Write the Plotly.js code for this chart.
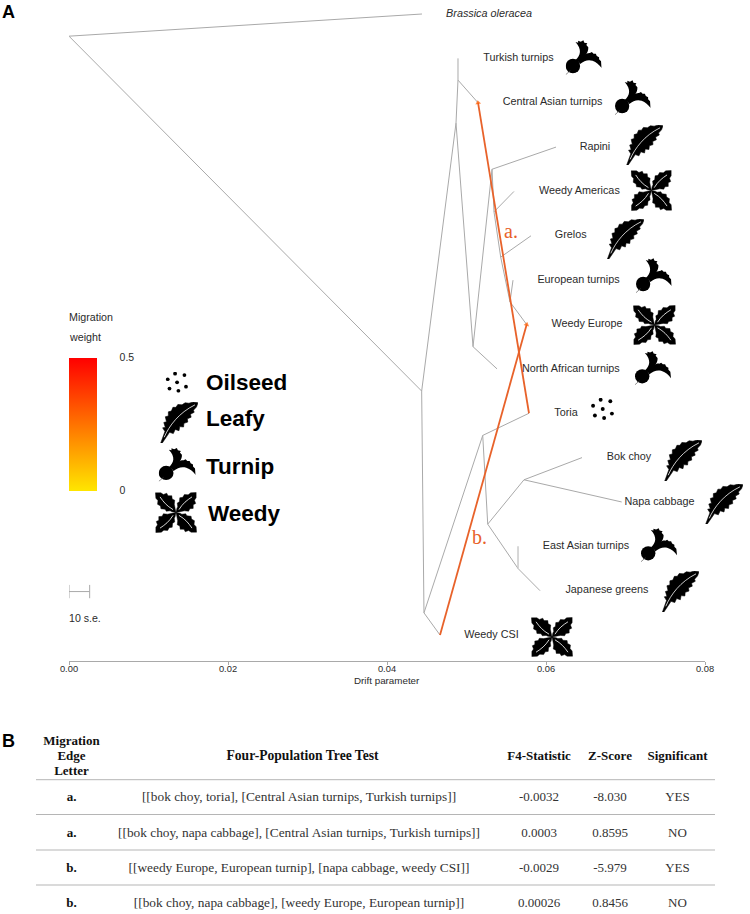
<!DOCTYPE html>
<html>
<head>
<meta charset="utf-8">
<script src="https://cdn.plot.ly/plotly-3.0.1.min.js"></script>
<style>html,body{margin:0;padding:0;background:#fff}</style>
</head>
<body>
<div id="chart" style="width:750px;height:914px"></div>
<script>
// ---- DATA: drift on x, tree row on y; null splits branches ----
const rowNames = ['<i>Brassica oleracea</i>','Turkish turnips','Central Asian turnips','Rapini','Weedy Americas','Grelos','European turnips','Weedy Europe','North African turnips','Toria','Bok choy','Napa cabbage','East Asian turnips','Japanese greens','Weedy CSI'];
const labelDrift = [.05283,.05653,.06082,.06616,.0642,.0631,.06409,.06516,.06313,.06252,.07044,.07428,.06502,.06766,.05314];
const labelRows = [0,1,2,3,4,5,6,7,8,9,10,11,12,13,14];
const branchDrift = [
  .0444,0,.04436,.04868,.04893,.04893,null,
  .04893,.05145,null,
  .04868,.05082,.05384,null,
  .05082,.05321,.06126,null,
  .05321,.05346,.05597,null,
  .05346,.0543,.05811,null,
  .0543,.05547,.05585,null,
  .05547,.05757,null,
  .04436,.04465,.04667,null,
  .04465,.05204,.05786,null,
  .05204,.05267,.05723,.06453,null,
  .05723,.06952,null,
  .05267,.05648,.05925
];
const branchRow = [
  0,.5,8.5,2.46,1.49,1,null,
  1.49,2,null,
  2.46,7.5,8,null,
  7.5,3.5,3,null,
  3.5,4.46,4,null,
  4.46,5.48,5,null,
  5.48,6.49,6,null,
  6.49,7,null,
  8.5,13.5,14,null,
  13.5,9.5,9,null,
  9.5,11.5,10.5,10,null,
  10.5,11,null,
  11.5,12.5,13
];
const eastAsianDrift = [.05648,.05648];
const eastAsianRow = [12.5,12];
const migrationA = {drift:[.05786,.05145], row:[9,2], weight:[.3,.3]};
const migrationB = {drift:[.04667,.05757], row:[14,7], weight:[.3,.3]};
const scaleDrift = [0,.0026,null,0,0,null,.0026,.0026];
const scaleRow = [13.02,13.02,null,12.87,13.17,null,12.87,13.17];
const driftTicks = [0,.02,.04,.06,.08];

const headerEdge = ['Migration','Edge','Letter'];
const headerTest = ['Four-Population Tree Test'];
const headers = ['F4-Statistic','Z-Score','Significant'];
const edgeLetter = ['a.','a.','b.','b.'];
const treeTest = ['[[bok choy, toria], [Central Asian turnips, Turkish turnips]]','[[bok choy, napa cabbage], [Central Asian turnips, Turkish turnips]]','[[weedy Europe, European turnip], [napa cabbage, weedy CSI]]','[[bok choy, napa cabbage], [weedy Europe, European turnip]]'];
const f4Stat = ['-0.0032','0.0003','-0.0029','0.00026'];
const zScore = ['-8.030','0.8595','-5.979','0.8456'];
const significant = ['YES','NO','YES','NO'];

// ---- LAYOUT HELPERS ----
const W = 750, H = 914;
const sans = '"Liberation Sans", Arial, sans-serif';
const serif = '"Liberation Serif", "Times New Roman", serif';
const grey = '#a9a9a9', orange = '#e8622a', ink = '#2b2b2b';
const colX = [71.5, 299, 539, 610, 677.5];
const rowY = [798, 833.5, 868.5, 904];
const ruleY = [779.7, 814.5, 850, 885];

// ---- ICONS (decorative glyphs) ----
const svgWrap = (vb, body) => 'data:image/svg+xml,' + encodeURIComponent(
  `<svg xmlns="http://www.w3.org/2000/svg" viewBox="${vb}" preserveAspectRatio="none">${body}</svg>`);
const leafIcon = svgWrap('0 0 100 100',
  '<path fill="#000" stroke="#000" stroke-width="1.5" stroke-linejoin="round" d="M2,100 L13,72 L7,63 L14,62 L10,50 L17,48 L14,36 L22,34 L22,24 L30,22 L34,13 L42,13 L47,6 L58,7 L66,2 L76,3 L88,0 L100,2 L96,12 L88,20 L90,25 L80,30 L82,37 L72,41 L73,49 L63,52 L62,61 L52,60 L50,70 L40,67 L35,77 L25,74 L6,100 Z"/>' +
  '<path fill="none" stroke="#fff" stroke-width="2" d="M11,86 C24,58 50,26 92,7"/>');
const turnipIcon = svgWrap('0 0 110 105',
  '<circle cx="22" cy="78" r="22" fill="#000"/>' +
  '<path stroke="#555" stroke-width="2" d="M14,92 L0,104"/>' +
  '<path fill="#000" d="M30,60 C46,46 50,28 30,6 L38,8 L38,2 L46,5 L54,1 L57,8 L66,10 L63,15 L69,22 C70,38 58,52 40,66 Z"/>' +
  '<path fill="#000" d="M38,64 C52,46 64,38 74,39 L80,36 L85,41 L92,41 L95,48 L102,52 L102,58 L108,64 L110,84 C102,74 94,66 82,62 C68,58 56,62 44,72 Z"/>');
const weedLeaf = 'M50,50 L52,40 L54,36 L53,27 L58,24 L59,14 L66,13 L70,6 L79,7 L85,2 L98,1 L98,14 L94,20 L97,28 L91,31 L91,40 L83,41 L80,47 L70,46 L60,48 Z';
const weedRib = '<path fill="none" stroke="#fff" stroke-width="2" d="M57,43 C66,28 76,20 88,12"/>';
const weedPart = a => `<g transform="rotate(${a} 50 50)"><path fill="#000" stroke="#000" stroke-width="1" stroke-linejoin="round" d="${weedLeaf}"/>${weedRib}</g>`;
const weedyIcon = svgWrap('0 0 100 100', weedPart(0) + weedPart(90) + weedPart(180) + weedPart(270));
const seedSpots = [[42,8],[84,15],[9,35],[51,50],[91,71],[17,80],[57,91]];
const seedIcon = svgWrap('0 0 100 100', seedSpots.map(p => `<ellipse cx="${p[0]}" cy="${p[1]}" rx="8.5" ry="9" fill="#000"/>`).join(''));

const place = (src, x0, y0, x1, y1) => ({
  source: src, xref: 'paper', yref: 'paper', x: x0 / W, y: 1 - y0 / H,
  sizex: (x1 - x0) / W, sizey: (y1 - y0) / H, xanchor: 'left', yanchor: 'top',
  sizing: 'stretch', layer: 'above'
});
const images = [
  place(turnipIcon, 565.7, 40, 601.7, 75), place(turnipIcon, 615, 80, 650.7, 115),
  place(leafIcon, 626, 125, 663, 165), place(weedyIcon, 630.7, 170, 672, 211),
  place(leafIcon, 606.7, 219, 644, 259), place(turnipIcon, 636, 258, 671.7, 293),
  place(weedyIcon, 633, 305, 676, 345), place(turnipIcon, 635, 351, 671, 385),
  place(seedIcon, 591, 398, 614, 420), place(leafIcon, 664, 440, 702, 481),
  place(leafIcon, 705, 484, 743, 524), place(turnipIcon, 641, 528, 677, 562),
  place(leafIcon, 661.7, 571, 699, 612), place(weedyIcon, 531, 617, 573, 657),
  place(seedIcon, 165.7, 372, 188, 392.7), place(leafIcon, 160, 402, 198, 443),
  place(turnipIcon, 158.7, 447.7, 195.7, 481.7), place(weedyIcon, 155, 492, 197, 533)
];

// ---- TRACES ----
const colorScale = [[0,'#ffe600'],[1,'#ff0000']];
const migrationTrace = (m, bar) => ({
  type: 'scatter', mode: 'lines+markers', x: m.drift, y: m.row, hoverinfo: 'skip', showlegend: false,
  line: {color: orange, width: 1.8},
  marker: Object.assign({
    symbol: 'triangle-up', angleref: 'previous', size: [0, 5], color: m.weight,
    colorscale: colorScale, cmin: 0, cmax: .5, showscale: bar, line: {width: 0}
  }, bar ? {colorbar: {
    xref: 'paper', yref: 'paper', x: 69 / W, xanchor: 'left', y: 1 - 357.7 / H, yanchor: 'top',
    lenmode: 'pixels', len: 133.3, thicknessmode: 'pixels', thickness: 28,
    outlinewidth: 0, borderwidth: 0, xpad: 0, ypad: 0,
    tickvals: [0, .5], ticktext: ['0', '0.5'], ticks: 'outside', ticklen: 21, tickcolor: 'rgba(0,0,0,0)',
    tickfont: {family: sans, size: 10.5, color: ink}
  }} : {})
});
const tableText = (x, y, text, bold, color, size) => ({
  type: 'scatter', mode: 'text', xaxis: 'x2', yaxis: 'y2', x, y, text, textposition: 'middle center',
  hoverinfo: 'skip', showlegend: false, cliponaxis: false,
  textfont: {family: serif, size: size || 13, color: color || '#333', weight: bold ? 700 : 400}
});
const fill = (n, v) => Array.from({length: n}, () => v);
const ruleX = [], ruleYs = [];
ruleY.forEach(y => { ruleX.push(36, 715, null); ruleYs.push(y, y, null); });

const data = [
  {type: 'scatter', mode: 'lines', x: branchDrift, y: branchRow, hoverinfo: 'skip', showlegend: false,
   line: {color: grey, width: 1}},
  {type: 'scatter', mode: 'lines', x: eastAsianDrift, y: eastAsianRow, hoverinfo: 'skip', showlegend: false,
   line: {color: '#c6c6c6', width: 1.4}},
  migrationTrace(migrationA, true),
  migrationTrace(migrationB, false),
  {type: 'scatter', mode: 'lines', x: scaleDrift, y: scaleRow, hoverinfo: 'skip', showlegend: false,
   line: {color: grey, width: 1}},
  {type: 'scatter', mode: 'text', x: labelDrift, y: labelRows, text: rowNames, textposition: 'middle center',
   hoverinfo: 'skip', showlegend: false, cliponaxis: false, textfont: {family: sans, size: 10.8, color: ink}},
  {type: 'scatter', mode: 'lines', xaxis: 'x2', yaxis: 'y2', x: ruleX, y: ruleYs, hoverinfo: 'skip', showlegend: false,
   line: {color: '#b5b5b5', width: 1}},
  tableText(fill(3, colX[0]), [741.7, 757, 772], headerEdge, true, '#111'),
  tableText([302.5], [756.7], headerTest, true, '#111', 13.6),
  tableText(colX.slice(2), fill(3, 756.7), headers, true, '#111'),
  tableText(fill(4, colX[0]), rowY, edgeLetter, true, '#111'),
  tableText(fill(4, colX[1]), rowY, treeTest, false, '#333', 13.35),
  tableText(fill(4, colX[2]), rowY, f4Stat),
  tableText(fill(4, colX[3]), rowY, zScore),
  tableText(fill(4, colX[4]), rowY, significant)
];

// ---- ANNOTATIONS ----
const note = (text, x, y, font, anchor) => ({
  text, x: x / W, y: 1 - y / H, xref: 'paper', yref: 'paper', showarrow: false,
  xanchor: anchor || 'left', yanchor: 'middle', font, borderpad: 0, borderwidth: 0
});
const legendFont = {family: sans, size: 22.5, color: '#000', weight: 700};
const annotations = [
  note('A', 2, 12, {family: sans, size: 18, color: '#000', weight: 700}),
  note('B', 2, 741, {family: sans, size: 18, color: '#000', weight: 700}),
  note('Migration', 69, 317, {family: sans, size: 10.7, color: ink}),
  note('weight', 69, 337, {family: sans, size: 10.7, color: ink}),
  note('10 s.e.', 69, 618, {family: sans, size: 10.6, color: ink}),
  note('Oilseed', 206, 382, legendFont),
  note('Leafy', 206, 419, legendFont),
  note('Turnip', 205.7, 467, legendFont),
  note('Weedy', 208, 513, legendFont),
  note('a.', 504, 231, {family: serif, size: 20, color: orange}),
  note('b.', 471.5, 536.5, {family: serif, size: 20, color: orange}),
  note('Drift parameter', 387, 680, {family: sans, size: 9.8, color: ink}, 'center')
];

const layout = {
  width: W, height: H, paper_bgcolor: '#fff', plot_bgcolor: 'rgba(0,0,0,0)', showlegend: false,
  margin: {l: 0, r: 0, t: 0, b: 0, pad: 0, autoexpand: false},
  xaxis: {domain: [69 / W, 705 / W], range: [0, .08], tickvals: driftTicks, tickformat: '.2f',
    ticks: 'outside', ticklen: 3, tickcolor: grey, showline: true, linecolor: grey, linewidth: 1,
    ticklabelstandoff: -4,
    showgrid: false, zeroline: false, tickfont: {family: sans, size: 9.3, color: ink}},
  yaxis: {domain: [1 - 660.6 / H, 1], range: [14.576, -0.3156], visible: false, showgrid: false, zeroline: false},
  xaxis2: {domain: [0, 1], range: [0, W], visible: false, anchor: 'y2', showgrid: false, zeroline: false},
  yaxis2: {domain: [0, 1], range: [H, 0], visible: false, anchor: 'x2', showgrid: false, zeroline: false},
  images, annotations
};
Plotly.newPlot('chart', data, layout, {displayModeBar: false, staticPlot: true});
</script>
</body>
</html>
